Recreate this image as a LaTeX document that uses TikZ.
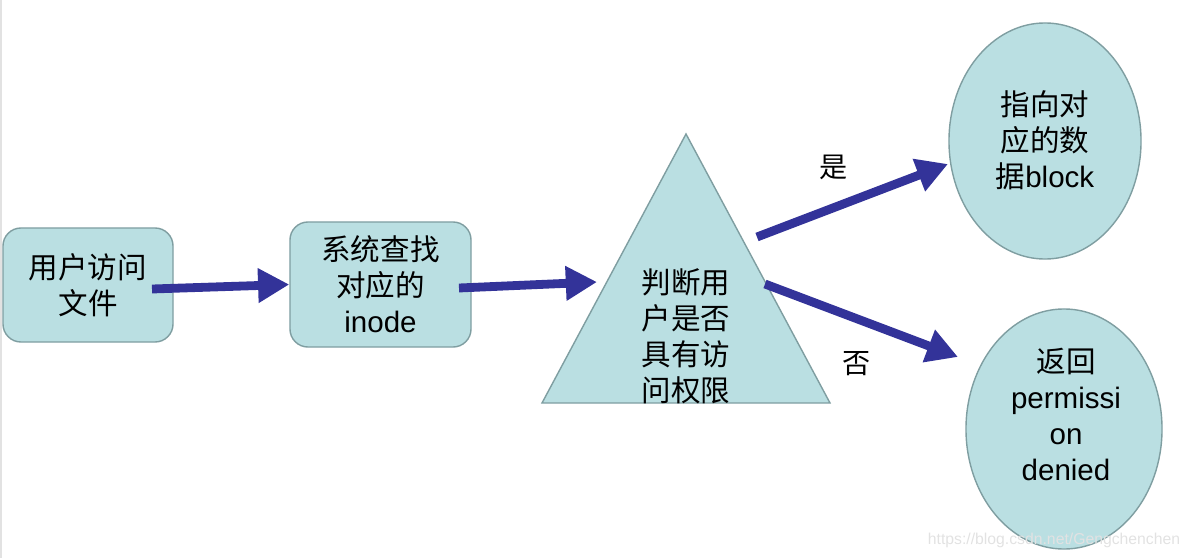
\documentclass[tikz,border=0pt]{standalone}
\usepackage{fontspec}
\setmainfont{Liberation Sans}
\newfontfamily\cjk{Noto Sans CJK SC}
\usetikzlibrary{shapes.geometric,arrows.meta}
\definecolor{boxfill}{HTML}{BADFE2}
\definecolor{boxline}{HTML}{7F9EA1}
\definecolor{arrowblue}{HTML}{333399}
\definecolor{wmark}{HTML}{E2E2E2}
\begin{document}
\begin{tikzpicture}[x=0.025cm,y=-0.025cm,
  shapestyle/.style={draw=boxline,fill=boxfill,line width=1pt},
  txt/.style={font=\fontsize{21}{25.6}\selectfont,align=center,inner sep=0pt},
  rbox/.style={shapestyle,rounded corners=0.45cm,txt},
  oval/.style={shapestyle,ellipse,inner sep=0pt},
  conn/.style={draw=arrowblue,line width=0.22cm,-{Triangle[length=0.78cm,width=0.82cm]}},
  lbl/.style={font=\cjk\fontsize{20}{24}\selectfont,inner sep=0pt}]
\useasboundingbox (0,0) rectangle (1190,558);
\draw[wmark,line width=2pt] (1,0) -- (1,558);

% nodes
\node[rbox,minimum width=4.25cm,minimum height=2.85cm] (b1) at (88,285) {\cjk 用户访问\\\cjk 文件};
\node[rbox,minimum width=4.525cm,minimum height=3.125cm] (b2) at (380.5,284.5) {\cjk 系统查找\\\cjk 对应的\\inode};

\coordinate (ta) at (686,134);
\coordinate (tl) at (542,403);
\coordinate (tr) at (830,403);
\draw[shapestyle] (ta) -- (tl) -- (tr) -- cycle;
\node[txt] (tt) at (686,336) {\cjk 判断用\\\cjk 户是否\\\cjk 具有访\\\cjk 问权限};

\node[oval,minimum width=4.8cm,minimum height=5.9cm] (e1) at (1045,141) {};
\node[txt] (e1t) at (1045,140) {\cjk 指向对\\\cjk 应的数\\{\cjk 据}block};

\node[oval,minimum width=4.9cm,minimum height=6.0cm] (e2) at (1064,429) {};
\node[txt] (e2t) at (1066,414) {\cjk 返回\\permissi\\on\\denied};

% connectors
\coordinate (s1) at (152,289);
\coordinate (s2) at (459,288);
\coordinate (e2a) at (597,282);
\coordinate (s3) at (757,237);
\coordinate (e3) at (948,164);
\coordinate (s4) at (765,284);
\coordinate (e4) at (958,357);
\draw[conn] (s1) -- (b2.west);
\draw[conn] (s2) -- (e2a);
\draw[conn] (s3) -- (e3);
\draw[conn] (s4) -- (e4);

\node[lbl] (yes) at (834,167) {是};
\node[lbl] (no) at (857,364) {否};

\node[font=\fontsize{11.2}{13}\selectfont,text=wmark,inner sep=0pt] (wm) at (1054,540) {https://blog.csdn.net/Gengchenchen};
\end{tikzpicture}
\end{document}
